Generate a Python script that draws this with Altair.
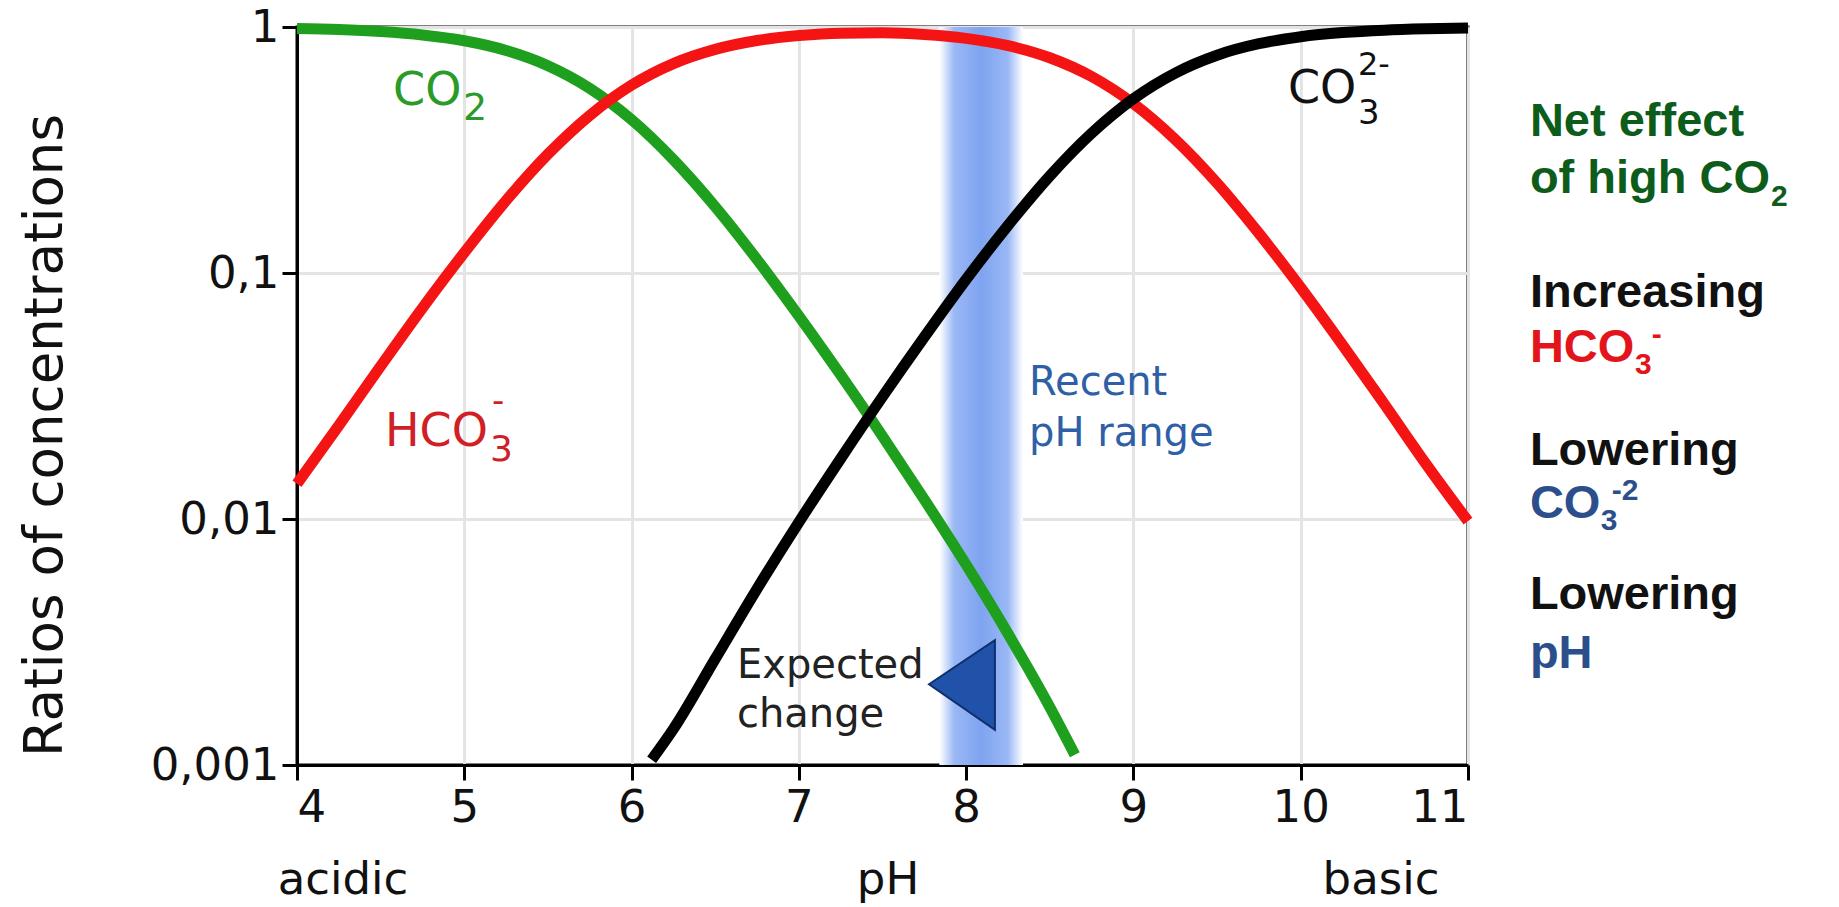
import altair as alt
import pandas as pd

# ---- curve data ----
co2_ph = [4.0, 4.25, 4.5, 4.75, 5.0, 5.25, 5.5, 5.75, 6.0, 6.25, 6.5, 6.75, 7.0, 7.25,
          7.5, 7.75, 8.0, 8.25, 8.5, 8.65]
co2_val = [0.986, 0.976, 0.958, 0.928, 0.879, 0.803, 0.696, 0.563, 0.420, 0.289, 0.186,
           0.1135, 0.0669, 0.0385, 0.0217, 0.0120, 0.00652, 0.00342, 0.00172, 0.00110]

hco3_ph = [4.0, 4.25, 4.5, 4.75, 5.0, 5.25, 5.5, 5.75, 6.0, 6.25, 6.5, 6.75, 7.0, 7.25,
           7.5, 7.75, 8.0, 8.25, 8.5, 8.75, 9.0, 9.25, 9.5, 9.75, 10.0, 10.25, 10.5,
           10.75, 11.0]
hco3_val = [0.0139, 0.0240, 0.0418, 0.0721, 0.121, 0.197, 0.304, 0.437, 0.580, 0.710,
            0.811, 0.881, 0.923, 0.944, 0.947, 0.933, 0.899, 0.840, 0.750, 0.629, 0.488,
            0.349, 0.232, 0.145, 0.0872, 0.0510, 0.0293, 0.0167, 0.0098]

co3_ph = [6.12, 6.25, 6.5, 6.75, 7.0, 7.25, 7.5, 7.75, 8.0, 8.25, 8.5, 8.75, 9.0, 9.25,
          9.5, 9.75, 10.0, 10.25, 10.5, 10.75, 11.0]
co3_val = [0.00105, 0.00140, 0.0027, 0.0052, 0.0097, 0.0176, 0.0314, 0.0549, 0.0942,
           0.156, 0.248, 0.370, 0.511, 0.650, 0.768, 0.855, 0.913, 0.949, 0.971, 0.983,
           0.990]

series_names = ["CO2", "HCO3-", "CO3 2-"]
series_colors = ["#1ea01e", "#f51414", "#000000"]

# recent pH range band
band_lo = [7.84]
band_hi = [8.34]

# "expected change" arrow
tri_ph = [7.778, 8.172]
tri_top = [0.00213, 0.00322]
tri_bottom = [0.00213, 0.00139]

# tick values
x_ticks = [4, 5, 6, 7, 8, 9, 10, 11]
y_ticks = [0.001, 0.01, 0.1, 1]

# in-plot labels
in_text = ["CO", "2", "HCO", "3", "-", "CO", "3", "2-", "Recent", "pH range", "Expected", "change"]
in_x = [4.574, 4.992, 4.526, 5.154, 5.166, 9.924, 10.342, 10.342, 8.376, 8.376, 6.630, 6.630]
in_y = [0.482, 0.420, 0.0198, 0.0172, 0.0272, 0.491, 0.405, 0.638, 0.0319, 0.0198, 0.00226, 0.00143]
in_size = [46, 38, 46, 36, 34, 46, 34, 32, 40, 40, 40, 40]
in_color = ["#2a9a2a", "#2a9a2a", "#d01f26", "#d01f26", "#d01f26", "#111111", "#111111",
            "#111111", "#2f5fa6", "#2f5fa6", "#222222", "#222222"]

# bottom labels
bottom_text = ["acidic", "pH", "basic"]
bottom_x = [4.275, 7.533, 10.48]
bottom_y = [0.000300, 0.000300, 0.000300]

# right-hand notes
side_text = ["Net effect", "of high CO", "2", "Increasing", "HCO", "3", "-", "Lowering", "CO",
             "3", "-2", "Lowering", "pH"]
side_x = [11.370, 11.370, 12.811, 11.370, 11.370, 11.998, 12.099, 11.370, 11.370, 11.794,
          11.860, 11.370, 11.370]
side_y = [0.3606, 0.2114, 0.187, 0.0728, 0.0434, 0.0388, 0.0514, 0.01658, 0.0101, 0.00902,
          0.01195, 0.00431, 0.00248]
side_size = [47, 47, 30, 47, 47, 30, 30, 47, 47, 30, 30, 47, 47]
side_color = ["#0e5c1c", "#0e5c1c", "#0e5c1c", "#111111", "#e3151c", "#e3151c", "#e3151c",
              "#111111", "#2c4f8c", "#2c4f8c", "#2c4f8c", "#111111", "#2c4f8c"]

# ---- build tables ----
curves = pd.concat([
    pd.DataFrame({"ph": co2_ph, "v": co2_val, "s": series_names[0]}),
    pd.DataFrame({"ph": hco3_ph, "v": hco3_val, "s": series_names[1]}),
    pd.DataFrame({"ph": co3_ph, "v": co3_val, "s": series_names[2]}),
])
band = pd.DataFrame({"lo": band_lo, "hi": band_hi})
tri = pd.DataFrame({"ph": tri_ph, "top": tri_top, "bot": tri_bottom})
inlab = pd.DataFrame({"t": in_text, "ph": in_x, "v": in_y, "fs": in_size, "c": in_color})
botlab = pd.DataFrame({"t": bottom_text, "ph": bottom_x, "v": bottom_y})
sidelab = pd.DataFrame({"t": side_text, "ph": side_x, "v": side_y, "fs": side_size, "c": side_color})

xscale = alt.Scale(domain=[4, 11], nice=False, zero=False)
yscale = alt.Scale(type="log", domain=[0.001, 1], nice=False)

X = alt.X("ph:Q", scale=xscale,
          axis=alt.Axis(values=x_ticks, format="d", title=None, labelPadding=5,
                        tickSize=15, grid=True))
Y = alt.Y("v:Q", scale=yscale,
          axis=alt.Axis(values=y_ticks, title="Ratios of concentrations",
                        labelExpr="replace(toString(datum.value), '.', ',')",
                        labelPadding=3, tickSize=15, grid=True,
                        titleFontSize=53, titleFont="DejaVu Sans", titleFontWeight="normal",
                        titleColor="#111111", titleAngle=270, titleX=-252, titleY=408,
                        titleAlign="center", titleBaseline="middle"))

grad = alt.LinearGradient(
    gradient="linear", x1=0, x2=1, y1=0, y2=0,
    stops=[alt.GradientStop(color="#ffffff", offset=0),
           alt.GradientStop(color="#9ab8f5", offset=0.18),
           alt.GradientStop(color="#7fa3f0", offset=0.5),
           alt.GradientStop(color="#9ab8f5", offset=0.82),
           alt.GradientStop(color="#ffffff", offset=1)])

band_layer = alt.Chart(band).mark_rect(color=grad).encode(
    x=alt.X("lo:Q", scale=xscale), x2="hi:Q")

line_layer = alt.Chart(curves).mark_line(strokeWidth=11, interpolate="monotone",
                                         strokeCap="butt").encode(
    x=X, y=Y,
    color=alt.Color("s:N", scale=alt.Scale(domain=series_names, range=series_colors), legend=None),
    detail="s:N")

tri_layer = alt.Chart(tri).mark_area(color="#1f52a8", stroke="#0f2f6e", strokeWidth=2,
                                     opacity=1).encode(
    x=alt.X("ph:Q", scale=xscale),
    y=alt.Y("top:Q", scale=yscale),
    y2="bot:Q")

in_layer = alt.Chart(inlab).mark_text(font="DejaVu Sans", align="left", baseline="alphabetic").encode(
    x=alt.X("ph:Q", scale=xscale), y=alt.Y("v:Q", scale=yscale), text="t:N",
    size=alt.Size("fs:Q", scale=None), color=alt.Color("c:N", scale=None))

bot_layer = alt.Chart(botlab).mark_text(font="DejaVu Sans", align="center", baseline="alphabetic",
                                        fontSize=45, color="#111111").encode(
    x=alt.X("ph:Q", scale=xscale), y=alt.Y("v:Q", scale=yscale), text="t:N")

side_layer = alt.Chart(sidelab).mark_text(font="Liberation Sans", fontWeight="bold", align="left",
                                          baseline="alphabetic").encode(
    x=alt.X("ph:Q", scale=xscale), y=alt.Y("v:Q", scale=yscale), text="t:N",
    size=alt.Size("fs:Q", scale=None), color=alt.Color("c:N", scale=None))

chart = alt.layer(band_layer, line_layer, tri_layer, in_layer, bot_layer, side_layer).resolve_scale(
    color="independent", size="independent"
).properties(
    width=1171, height=738,
    autosize=alt.AutoSizeParams(type="none"),
    padding={"left": 289, "top": 19, "right": 363, "bottom": 142},
    background="white",
).configure_view(
    stroke="#000000", strokeWidth=3
).configure_axis(
    gridColor="#e4e4e4", gridWidth=3, domainColor="#000000", domainWidth=3,
    tickColor="#000000", tickWidth=3, labelFont="DejaVu Sans", labelFontSize=45,
    labelColor="#111111"
)

chart.save("out.html", embed_options={"renderer": "svg", "actions": False})
